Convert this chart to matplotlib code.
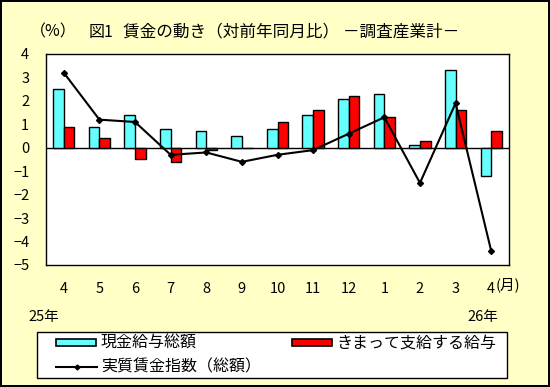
import numpy as np
import matplotlib
matplotlib.use("Agg")
from matplotlib import pyplot as plt
from matplotlib.patches import Rectangle
from matplotlib.lines import Line2D

plt.rcParams['font.family'] = ['Noto Sans CJK JP', 'DejaVu Sans']

months = ['4', '5', '6', '7', '8', '9', '10', '11', '12', '1', '2', '3', '4']
cash_total = [2.5, 0.9, 1.4, 0.8, 0.7, 0.5, 0.8, 1.4, 2.1, 2.3, 0.1, 3.3, -1.2]
regular_pay = [0.9, 0.4, -0.5, -0.6, -0.1, 0.0, 1.1, 1.6, 2.2, 1.3, 0.3, 1.6, 0.7]
real_wage = [3.2, 1.2, 1.1, -0.3, -0.2, -0.6, -0.3, -0.1, 0.6, 1.3, -1.5, 1.9, -4.4]

bg = '#FFFFC6'
cyan = '#66FFFF'
red = '#FF0000'
W, H = 550, 387

def fx(px):
  return px / W

def fy(py):
  return 1 - py / H

fig = plt.figure(figsize=(5.5, 3.87), dpi=100)
fig.patch.set_facecolor(bg)
fig.patch.set_edgecolor('black')
fig.patch.set_linewidth(1.5)

ax = fig.add_axes([fx(46), fy(265), 463/W, 211/H])
x = np.arange(len(months))
w = 0.3
ax.bar(x - w/2, cash_total, w, color=cyan, edgecolor='black', linewidth=1.0, zorder=2)
ax.bar(x + w/2, regular_pay, w, color=red, edgecolor='black', linewidth=1.0, zorder=2)
ax.axhline(0, color='black', linewidth=1, zorder=1)
ax.plot(x, real_wage, color='black', linewidth=1.5, marker='D', markersize=3, zorder=3)

ax.set_xlim(-0.5, len(months) - 0.5)
ax.set_ylim(-5, 4)
ax.set_yticks(range(-5, 5))
ax.set_yticklabels([str(v).replace('-', '\u2212') for v in range(-5, 5)])
ax.set_xticks(x)
ax.set_xticklabels(months)
ax.tick_params(axis='both', length=0, labelsize=10.5)
ax.tick_params(axis='x', pad=12)
ax.tick_params(axis='y', pad=12)
for s in ax.spines.values():
  s.set_linewidth(1)

fs = 11.5
fig.text(fx(30), fy(32), '（%）', fontsize=fs, va='center')
fig.text(fx(89), fy(32), '図1', fontsize=fs, va='center')
fig.text(fx(123), fy(32), '賃金の動き（対前年同月比） －調査産業計－', fontsize=12, va='center')
fig.text(fx(496), fy(285), '(月)', fontsize=10.5, va='center', ha='left')
fig.text(fx(44), fy(317), '25年', fontsize=10.5, va='center', ha='center')
fig.text(fx(483), fy(317), '26年', fontsize=10.5, va='center', ha='center')

# legend box drawn by hand
fig.add_artist(Rectangle((fx(37), fy(378)), 470/W, 46/H, transform=fig.transFigure,
                         facecolor='white', edgecolor='black', linewidth=1))
def leg_patch(px, py, color):
  fig.add_artist(Rectangle((fx(px), fy(py + 3.5)), 40/W, 7/H, transform=fig.transFigure,
                           facecolor=color, edgecolor='black', linewidth=1.2))

leg_patch(56, 342.5, cyan)
fig.text(fx(101), fy(343), '現金給与総額', fontsize=fs, va='center')
leg_patch(292, 342.5, red)
fig.text(fx(336), fy(343), 'きまって支給する給与', fontsize=fs, va='center')
fig.add_artist(Line2D([fx(56), fx(97)], [fy(367), fy(367)], transform=fig.transFigure,
                      color='black', linewidth=1.5))
fig.add_artist(Line2D([fx(77)], [fy(367)], transform=fig.transFigure,
                      color='black', marker='D', markersize=2.5, linewidth=0))
fig.text(fx(101), fy(367), '実質賃金指数（総額）', fontsize=fs, va='center')

fig.savefig('out.png', dpi=100, facecolor=fig.get_facecolor(), edgecolor=fig.get_edgecolor())
